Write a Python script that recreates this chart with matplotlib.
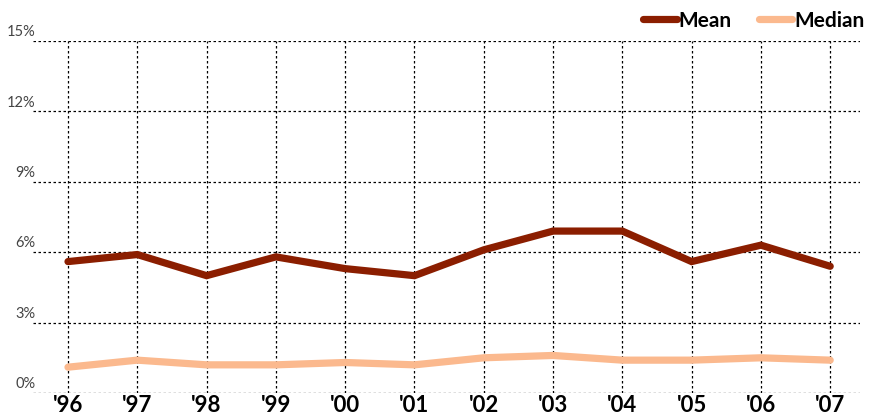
import matplotlib.pyplot as plt
from matplotlib.transforms import blended_transform_factory

years = ["'96", "'97", "'98", "'99", "'00", "'01", "'02", "'03", "'04", "'05", "'06", "'07"]
mean = [5.6, 5.9, 5.0, 5.8, 5.3, 5.0, 6.1, 6.9, 6.9, 5.6, 6.3, 5.4]
median = [1.1, 1.4, 1.2, 1.2, 1.3, 1.2, 1.5, 1.6, 1.4, 1.4, 1.5, 1.4]
yticks = [0, 3, 6, 9, 12, 15]

mean_color = '#8b1e00'
median_color = '#fbb98e'

plt.rcParams['font.family'] = ['Lato', 'DejaVu Sans']

fig = plt.figure(figsize=(8.85, 4.16), dpi=100)
ax = fig.add_axes([33 / 885, 1 - 393 / 416, (860 - 33) / 885, (393 - 41) / 416])

x = list(range(len(years)))
ax.plot(x, mean, color=mean_color, lw=5.2, solid_capstyle='round', solid_joinstyle='miter', label='Mean', zorder=3)
ax.plot(x, median, color=median_color, lw=5.2, solid_capstyle='round', solid_joinstyle='miter', label='Median', zorder=3)

ax.set_xlim(-0.505, 11.43)
ax.set_ylim(0, 15)

# dotted grid
for yv in yticks:
    ax.axhline(yv, color='black', lw=0.9, ls=(0, (2, 2)), zorder=1)
for xv in x:
    ax.axvline(xv, color='black', lw=0.9, ls=(0, (2, 2)), zorder=1)

ax.set_xticks(x)
ax.set_xticklabels(years, fontsize=16, fontweight='bold')
ax.tick_params(axis='x', length=0, pad=1.5)
ax.set_yticks([])
for s in ax.spines.values():
    s.set_visible(False)

trans = blended_transform_factory(ax.transAxes, ax.transData)
for yv in yticks:
    ax.text(0.003, yv + 0.08, f'{yv}%', transform=trans, ha='right', va='bottom',
            fontsize=10.5, color='#444444')

ax.legend(loc='lower right', bbox_to_anchor=(1.018, 1.0), ncol=2, frameon=False,
          handlelength=1.6, handletextpad=0.1, columnspacing=1.3,
          prop={'weight': 'bold', 'size': 15}, borderaxespad=0.1)

fig.savefig('out.png', dpi=100)
